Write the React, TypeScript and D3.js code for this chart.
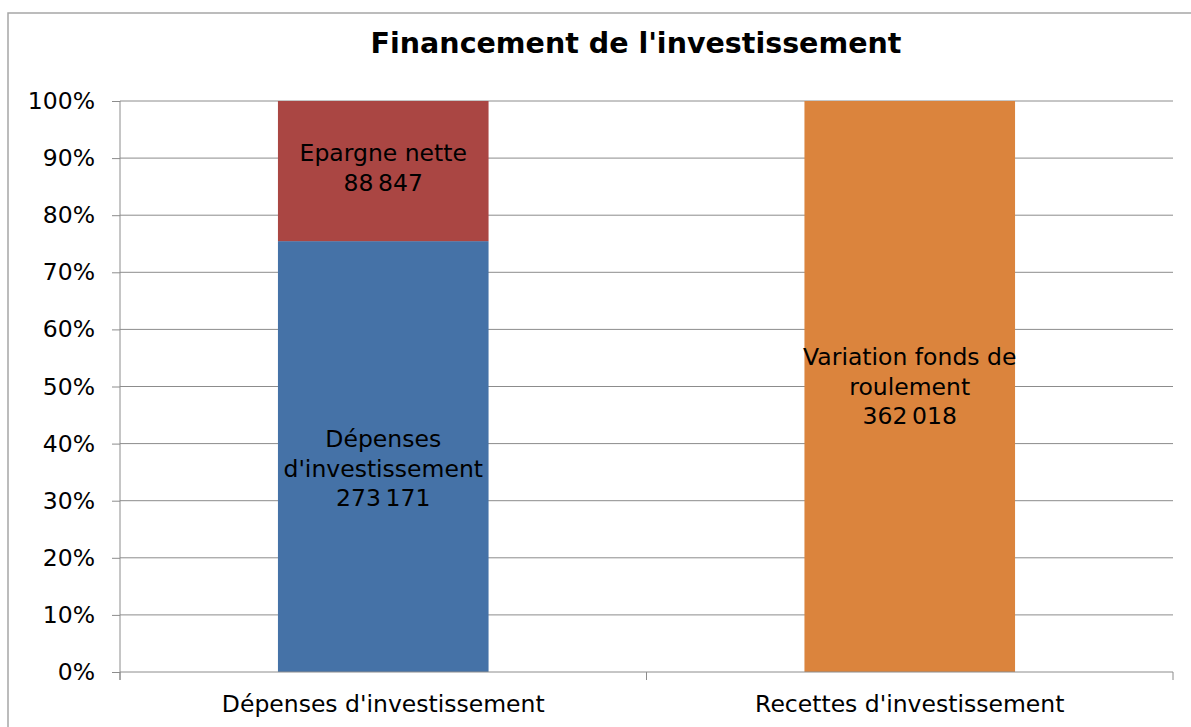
import React, { useEffect, useRef } from 'react';
import * as d3 from 'd3';

const categories = ["Dépenses d'investissement", "Recettes d'investissement"];
const seriesNames = ['Dépenses', 'Epargne nette', 'Variation fonds de roulement'];
const seriesLabels = [["Dépenses", "d'investissement"], ['Epargne nette'], ['Variation fonds de', 'roulement']];
// values per category: [Dépenses, Epargne nette, Variation FdR]
const valuesDepenses = [273171, 88847, 0];
const valuesRecettes = [0, 0, 362018];
const seriesColors = ['#4572A7', '#AA4643', '#DB843D'];
const yTicks = [0, 0.1, 0.2, 0.3, 0.4, 0.5, 0.6, 0.7, 0.8, 0.9, 1];

const W = 1191;
const H = 727;
const m = { left: 120, right: 1173, top: 101, bottom: 672 };
const font = '"DejaVu Sans", Verdana, sans-serif';
const labelShift = [12, -3, 0];

const fr = d3.formatLocale({ decimal: ',', thousands: '\u202f', grouping: [3], currency: ['', ' €'] });
const fmt = fr.format(',d');

const App = () => {
  const svgRef = useRef<SVGSVGElement>(null);

  useEffect(() => {
    const svg = d3.select(svgRef.current);
    svg.selectAll('*').remove();

    const rows = [valuesDepenses, valuesRecettes].map((vals, i) => {
      const row: any = { cat: categories[i] };
      const total = d3.sum(vals);
      seriesNames.forEach((s, j) => { row[s] = vals[j] / total; row[s + '_raw'] = vals[j]; });
      return row;
    });

    const stack = d3.stack().keys(seriesNames);
    const stacked = stack(rows);

    const x = d3.scaleBand().domain(categories).range([m.left, m.right]).paddingInner(0.6).paddingOuter(0.3);
    const xOuter = d3.scaleBand().domain(categories).range([m.left, m.right]);
    const y = d3.scaleLinear().domain([0, 1]).range([m.bottom, m.top]);

    // outer border
    svg.append('rect')
      .attr('x', 8).attr('y', 13)
      .attr('width', W).attr('height', H)
      .attr('fill', 'none').attr('stroke', '#a6a6a6').attr('stroke-width', 1.5);

    svg.append('text')
      .attr('x', 636).attr('y', 53)
      .attr('text-anchor', 'middle')
      .style('font-family', font).style('font-weight', 'bold').style('font-size', '28.5px')
      .text("Financement de l'investissement");

    // gridlines
    svg.append('g').selectAll('line')
      .data(yTicks.filter(t => t > 0))
      .enter().append('line')
      .attr('x1', m.left).attr('x2', m.right)
      .attr('y1', d => y(d)).attr('y2', d => y(d))
      .attr('stroke', '#8c8c8c').attr('stroke-width', 1);

    const yAxis = d3.axisLeft(y).tickValues(yTicks).tickFormat(d3.format('.0%')).tickSize(8).tickSizeOuter(0);
    const gy = svg.append('g').attr('transform', `translate(${m.left},0)`).call(yAxis);
    gy.select('.domain').attr('stroke', '#8c8c8c').attr('d', `M0,${m.top}V${m.bottom + 8}`);
    gy.selectAll('.tick line').attr('stroke', '#8c8c8c');
    gy.selectAll('.tick text').attr('x', -25).style('font-family', font).style('font-size', '23.5px').attr('fill', '#000');

    // bars
    const layers = svg.append('g').selectAll('g')
      .data(stacked)
      .enter().append('g')
      .attr('fill', (d, i) => seriesColors[i]);

    layers.selectAll('rect')
      .data(d => d.filter(p => p[1] - p[0] > 0))
      .enter().append('rect')
      .attr('x', d => x(d.data.cat as string)!)
      .attr('width', x.bandwidth())
      .attr('y', d => y(d[1]))
      .attr('height', d => y(d[0]) - y(d[1]));

    // x axis
    const gx = svg.append('g').attr('transform', `translate(0,${m.bottom})`);
    gx.append('line').attr('x1', m.left).attr('x2', m.right).attr('stroke', '#8c8c8c');
    const edges = [m.left, ...categories.map(c => xOuter(c)! + xOuter.bandwidth())];
    gx.selectAll('line.tk').data(edges).enter().append('line')
      .attr('class', 'tk')
      .attr('x1', d => d).attr('x2', d => d).attr('y1', 0).attr('y2', 8)
      .attr('stroke', '#8c8c8c');
    gx.selectAll('text').data(categories).enter().append('text')
      .attr('x', d => xOuter(d)! + xOuter.bandwidth() / 2)
      .attr('y', 40)
      .attr('text-anchor', 'middle')
      .style('font-family', font).style('font-size', '23.5px')
      .text(d => d);

    // data labels
    stacked.forEach((layer, i) => {
      layer.forEach(p => {
        if (p[1] - p[0] <= 0) return;
        const raw = (p.data as any)[seriesNames[i] + '_raw'];
        const lines = [...seriesLabels[i], fmt(raw)];
        const cx = x(p.data.cat as string)! + x.bandwidth() / 2;
        const cy = (y(p[0]) + y(p[1])) / 2 + labelShift[i];
        const lh = 29.5;
        const t = svg.append('text')
          .attr('text-anchor', 'middle')
          .style('font-family', font).style('font-size', '23.5px')
          .attr('fill', '#000');
        lines.forEach((ln, k) => {
          t.append('tspan')
            .attr('x', cx)
            .attr('y', cy + (k - (lines.length - 1) / 2) * lh + 8)
            .text(ln);
        });
      });
    });
  }, []);

  return (
    <svg ref={svgRef} width={W} height={H}
      style={{ position: 'absolute', left: 0, top: 0, background: '#fff' }} />
  );
};

export default App;
